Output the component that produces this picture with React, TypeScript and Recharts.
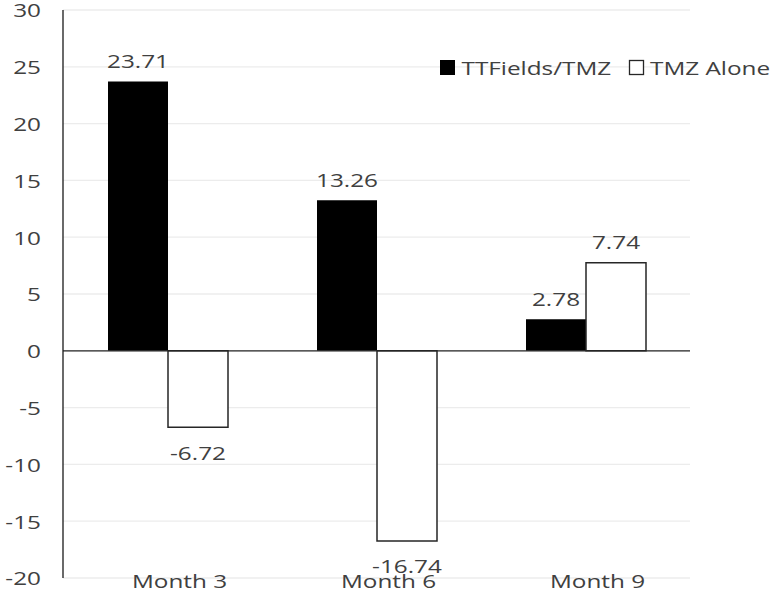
import React from 'react';
import { BarChart, Bar, XAxis, YAxis, CartesianGrid, ReferenceLine, LabelList, Legend } from 'recharts';

const categories = ['Month 3', 'Month 6', 'Month 9'];
const ttfieldsTmz = [23.71, 13.26, 2.78];
const tmzAlone = [-6.72, -16.74, 7.74];
const yTicks = [-20, -15, -10, -5, 0, 5, 10, 15, 20, 25, 30];
const seriesNames = ['TTFields/TMZ', 'TMZ Alone'];

const data = categories.map((c, i) => ({ month: c, a: ttfieldsTmz[i], b: tmzAlone[i] }));

const FONT = '"Open Sans", sans-serif';
const TEXT = '#404040';
const FS = 19;
const SX = 1.28;

function StretchText({ x, y, anchor = 'middle', children }: any) {
  return (
    <text
      transform={`translate(${x},${y}) scale(${SX},1)`}
      x={0}
      y={0}
      textAnchor={anchor}
      dominantBaseline="central"
      fontFamily={FONT}
      fontSize={FS}
      fill={TEXT}
    >
      {children}
    </text>
  );
}

const YTick = (props: any) => {
  const { x, y, payload } = props;
  return <StretchText x={x} y={y} anchor="end">{payload.value}</StretchText>;
};

const XTick = (props: any) => {
  const { x, y, payload } = props;
  return <StretchText x={x + 12} y={y}>{payload.value}</StretchText>;
};

const renderLabel = (props: any) => {
  const { value } = props;
  const vb = typeof props.x === 'number' ? props : props.viewBox;
  const { x, y, width, height } = vb;
  const top = Math.min(y, y + height);
  const bottom = Math.max(y, y + height);
  const cy = value >= 0 ? top - 21 : bottom + 25;
  return <StretchText x={x + width / 2} y={cy}>{String(value)}</StretchText>;
};

const LegendContent = () => (
  <svg width={344} height={30} style={{ display: 'block', overflow: 'visible' }}>
    <rect x={10} y={8} width={15} height={15} fill="#000" />
    <StretchText x={31.5} y={15.5} anchor="start">{seriesNames[0]}</StretchText>
    <rect x={199.5} y={8.5} width={14} height={14} fill="#fff" stroke="#262626" strokeWidth={1.3} />
    <StretchText x={220} y={15.5} anchor="start">{seriesNames[1]}</StretchText>
  </svg>
);

export default function App() {
  return (
    <div style={{ position: 'absolute', left: 0, top: 0 }}>
      <BarChart
        width={774}
        height={594}
        data={data}
        margin={{ top: 10, right: 84, bottom: 0, left: 0 }}
        barGap={0}
        style={{ fontFamily: FONT, background: '#fff' }}
      >
        <CartesianGrid vertical={false} stroke="#ececec" strokeWidth={1.3} />
        <XAxis
          dataKey="month"
          height={16}
          axisLine={false}
          tickLine={false}
          tickSize={0}
          tickMargin={3}
          tick={<XTick />}
          interval={0}
        />
        <YAxis
          width={63}
          domain={[-20, 30]}
          ticks={yTicks}
          interval={0}
          axisLine={{ stroke: '#1a1a1a', strokeWidth: 1.3 }}
          tickLine={false}
          tickSize={0}
          tickMargin={22}
          tick={<YTick />}
          allowDataOverflow
        />
        <Legend
          layout="vertical"
          align="center"
          verticalAlign="middle"
          content={<LegendContent />}
          wrapperStyle={{ position: 'absolute', left: 430, top: 52, width: 344, height: 30 }}
        />
        <Bar dataKey="a" name={seriesNames[0]} fill="#000" barSize={60} isAnimationActive={false}>
          <LabelList dataKey="a" content={renderLabel} />
        </Bar>
        <Bar dataKey="b" name={seriesNames[1]} fill="#fff" stroke="#262626" strokeWidth={1.5} barSize={60} isAnimationActive={false}>
          <LabelList dataKey="b" content={renderLabel} />
        </Bar>
        <ReferenceLine y={0} stroke="#262626" strokeWidth={1.3} />
      </BarChart>
    </div>
  );
}
